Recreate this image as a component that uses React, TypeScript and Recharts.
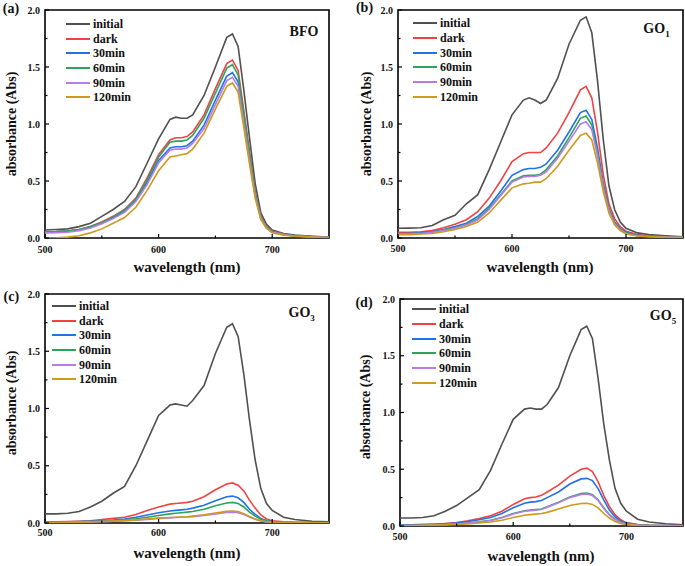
import React from 'react';
import { LineChart, Line, XAxis, YAxis, ReferenceArea } from 'recharts';

// ---------------- data ----------------
const wavelengths = [500, 510, 520, 530, 540, 550, 560, 570, 580, 590, 600, 610, 615, 620, 625, 630, 640, 650, 660, 665, 670, 675, 680, 685, 690, 695, 700, 710, 720, 735, 750];
const seriesNames = ['initial', 'dark', '30min', '60min', '90min', '120min'];
const seriesColors = ['#505050', '#ef4343', '#2172e6', '#2ea25e', '#b67de9', '#cc9b1d'];
const xTicks = [500, 550, 600, 650, 700];
const yTicks = [0, 0.25, 0.5, 0.75, 1, 1.25, 1.5, 1.75, 2];

// (a) BFO
const bfoInitial = [0.07, 0.075, 0.08, 0.10, 0.13, 0.19, 0.25, 0.32, 0.45, 0.66, 0.87, 1.04, 1.06, 1.05, 1.05, 1.08, 1.25, 1.50, 1.76, 1.79, 1.68, 1.30, 0.88, 0.48, 0.22, 0.12, 0.07, 0.04, 0.025, 0.015, 0.008];
const bfoDark = [0.055, 0.057, 0.062, 0.075, 0.10, 0.14, 0.19, 0.25, 0.35, 0.53, 0.73, 0.86, 0.88, 0.88, 0.89, 0.93, 1.08, 1.31, 1.53, 1.56, 1.47, 1.12, 0.76, 0.41, 0.19, 0.10, 0.06, 0.035, 0.02, 0.012, 0.006];
const bfo30 = [0.055, 0.056, 0.06, 0.072, 0.095, 0.13, 0.18, 0.235, 0.33, 0.49, 0.68, 0.79, 0.80, 0.80, 0.81, 0.85, 0.99, 1.21, 1.42, 1.45, 1.37, 1.04, 0.70, 0.38, 0.175, 0.09, 0.05, 0.03, 0.018, 0.01, 0.005];
const bfo60 = [0.055, 0.057, 0.062, 0.075, 0.10, 0.135, 0.185, 0.245, 0.34, 0.51, 0.71, 0.84, 0.85, 0.85, 0.86, 0.90, 1.05, 1.27, 1.49, 1.52, 1.43, 1.09, 0.74, 0.40, 0.185, 0.095, 0.055, 0.033, 0.02, 0.011, 0.006];
const bfo90 = [0.045, 0.046, 0.05, 0.065, 0.088, 0.125, 0.17, 0.225, 0.32, 0.47, 0.66, 0.77, 0.78, 0.78, 0.79, 0.83, 0.96, 1.17, 1.38, 1.41, 1.33, 1.01, 0.68, 0.37, 0.17, 0.088, 0.05, 0.03, 0.017, 0.01, 0.005];
const bfo120 = [0.0, 0.002, 0.008, 0.02, 0.045, 0.08, 0.13, 0.18, 0.27, 0.42, 0.59, 0.71, 0.72, 0.73, 0.74, 0.78, 0.92, 1.13, 1.33, 1.36, 1.28, 0.97, 0.65, 0.35, 0.16, 0.083, 0.045, 0.025, 0.015, 0.008, 0.004];

// (b) GO1
const go1Initial = [0.085, 0.087, 0.09, 0.11, 0.16, 0.20, 0.30, 0.38, 0.60, 0.84, 1.08, 1.21, 1.23, 1.21, 1.18, 1.21, 1.40, 1.70, 1.91, 1.94, 1.80, 1.38, 0.87, 0.46, 0.25, 0.14, 0.085, 0.045, 0.03, 0.02, 0.01];
const go1Dark = [0.05, 0.05, 0.055, 0.065, 0.09, 0.12, 0.16, 0.23, 0.35, 0.50, 0.67, 0.74, 0.75, 0.75, 0.75, 0.79, 0.92, 1.10, 1.30, 1.33, 1.23, 0.93, 0.56, 0.30, 0.17, 0.10, 0.06, 0.03, 0.02, 0.012, 0.008];
const go130 = [0.04, 0.04, 0.045, 0.055, 0.075, 0.10, 0.13, 0.19, 0.28, 0.41, 0.55, 0.60, 0.61, 0.61, 0.62, 0.65, 0.77, 0.93, 1.10, 1.12, 1.04, 0.79, 0.48, 0.26, 0.14, 0.08, 0.05, 0.025, 0.015, 0.01, 0.006];
const go160 = [0.035, 0.035, 0.04, 0.05, 0.07, 0.09, 0.12, 0.17, 0.26, 0.38, 0.50, 0.545, 0.55, 0.55, 0.56, 0.60, 0.72, 0.88, 1.05, 1.07, 0.99, 0.75, 0.46, 0.25, 0.13, 0.075, 0.045, 0.022, 0.014, 0.009, 0.005];
const go190 = [0.035, 0.035, 0.04, 0.05, 0.065, 0.085, 0.115, 0.16, 0.25, 0.37, 0.49, 0.535, 0.54, 0.54, 0.55, 0.58, 0.70, 0.85, 1.00, 1.02, 0.95, 0.72, 0.44, 0.24, 0.125, 0.07, 0.04, 0.02, 0.013, 0.008, 0.005];
const go1120 = [0.03, 0.03, 0.035, 0.04, 0.055, 0.075, 0.10, 0.14, 0.22, 0.33, 0.44, 0.475, 0.48, 0.49, 0.49, 0.52, 0.63, 0.77, 0.90, 0.92, 0.86, 0.66, 0.41, 0.22, 0.115, 0.065, 0.035, 0.018, 0.012, 0.007, 0.004];

// (c) GO3
const go3Initial = [0.08, 0.08, 0.085, 0.10, 0.14, 0.19, 0.26, 0.32, 0.50, 0.72, 0.94, 1.03, 1.04, 1.03, 1.02, 1.07, 1.20, 1.48, 1.71, 1.74, 1.63, 1.30, 0.90, 0.55, 0.30, 0.17, 0.11, 0.05, 0.03, 0.015, 0.01];
const go3Dark = [0.01, 0.01, 0.012, 0.015, 0.02, 0.03, 0.04, 0.05, 0.075, 0.11, 0.14, 0.165, 0.17, 0.175, 0.18, 0.19, 0.23, 0.29, 0.34, 0.35, 0.33, 0.28, 0.20, 0.13, 0.07, 0.035, 0.02, 0.01, 0.006, 0.004, 0.003];
const go330 = [0.01, 0.01, 0.01, 0.012, 0.015, 0.02, 0.025, 0.035, 0.05, 0.07, 0.09, 0.105, 0.11, 0.115, 0.12, 0.13, 0.155, 0.195, 0.23, 0.235, 0.22, 0.18, 0.12, 0.075, 0.04, 0.02, 0.012, 0.006, 0.004, 0.003, 0.002];
const go360 = [0.008, 0.008, 0.009, 0.01, 0.012, 0.016, 0.02, 0.027, 0.037, 0.05, 0.065, 0.08, 0.085, 0.09, 0.095, 0.10, 0.12, 0.15, 0.175, 0.18, 0.17, 0.14, 0.095, 0.06, 0.033, 0.017, 0.01, 0.005, 0.004, 0.003, 0.002];
const go390 = [0.005, 0.005, 0.006, 0.008, 0.01, 0.012, 0.015, 0.02, 0.025, 0.032, 0.04, 0.045, 0.048, 0.05, 0.052, 0.056, 0.066, 0.08, 0.093, 0.095, 0.09, 0.074, 0.052, 0.032, 0.018, 0.01, 0.006, 0.004, 0.003, 0.002, 0.001];
const go3120 = [0.005, 0.005, 0.006, 0.008, 0.01, 0.013, 0.016, 0.021, 0.027, 0.035, 0.043, 0.048, 0.05, 0.053, 0.055, 0.06, 0.072, 0.088, 0.102, 0.105, 0.1, 0.082, 0.057, 0.035, 0.02, 0.011, 0.007, 0.004, 0.003, 0.002, 0.001];

// (d) GO5
const go5Initial = [0.07, 0.07, 0.075, 0.09, 0.13, 0.18, 0.25, 0.32, 0.49, 0.72, 0.94, 1.03, 1.04, 1.03, 1.03, 1.07, 1.22, 1.50, 1.73, 1.76, 1.65, 1.30, 0.90, 0.58, 0.33, 0.20, 0.13, 0.06, 0.035, 0.02, 0.01];
const go5Dark = [0.01, 0.01, 0.012, 0.016, 0.022, 0.03, 0.045, 0.065, 0.09, 0.13, 0.19, 0.24, 0.25, 0.255, 0.27, 0.30, 0.36, 0.44, 0.50, 0.51, 0.48, 0.39, 0.27, 0.17, 0.10, 0.055, 0.03, 0.012, 0.007, 0.004, 0.003];
const go530 = [0.01, 0.01, 0.012, 0.015, 0.02, 0.027, 0.04, 0.055, 0.075, 0.11, 0.16, 0.20, 0.21, 0.215, 0.225, 0.25, 0.30, 0.37, 0.415, 0.42, 0.40, 0.33, 0.23, 0.14, 0.08, 0.045, 0.025, 0.01, 0.006, 0.004, 0.002];
const go560 = [0.005, 0.005, 0.007, 0.01, 0.013, 0.018, 0.026, 0.036, 0.05, 0.075, 0.11, 0.135, 0.14, 0.145, 0.15, 0.17, 0.21, 0.255, 0.285, 0.29, 0.275, 0.23, 0.16, 0.10, 0.06, 0.033, 0.018, 0.008, 0.005, 0.003, 0.002];
const go590 = [0.005, 0.005, 0.007, 0.01, 0.013, 0.018, 0.025, 0.035, 0.048, 0.072, 0.105, 0.13, 0.135, 0.14, 0.145, 0.165, 0.205, 0.25, 0.278, 0.282, 0.268, 0.225, 0.155, 0.095, 0.057, 0.031, 0.017, 0.008, 0.005, 0.003, 0.002];
const go5120 = [0.005, 0.005, 0.006, 0.008, 0.01, 0.014, 0.019, 0.026, 0.035, 0.05, 0.075, 0.095, 0.10, 0.105, 0.11, 0.12, 0.15, 0.18, 0.198, 0.20, 0.19, 0.16, 0.11, 0.07, 0.04, 0.022, 0.012, 0.006, 0.004, 0.002, 0.001];

// ---------------- helpers ----------------
const FONT = '"Liberation Serif", "Times New Roman", serif';

const buildRows = (series: number[][]) =>
  wavelengths.map((w, i) => {
    const row: Record<string, number> = { w };
    seriesNames.forEach((n, k) => {
      row[n] = series[k][i];
    });
    return row;
  });

type PanelCfg = {
  left: number;
  top: number;
  width: number;
  height: number;
  boxLeft: number;
  boxTop: number;
  boxRight: number;
  boxBottom: number;
  series: number[][];
  tag: string;
  sample: React.ReactNode;
  tagPos: [number, number];
  samplePos: [number, number];
  xTitlePos: [number, number];
  yTitlePos: [number, number];
  legendPos: [number, number];
  xLabelGap: number;
};

const XTick = (props: any) => {
  const { x, y, payload, gap } = props;
  const v = payload.value;
  const major = v % 100 === 0;
  return (
    <g>
      <line x1={x} x2={x} y1={y} y2={y - (major ? 4 : 2.5)} stroke="#000" strokeWidth={1.2} />
      {major && (
        <text x={x} y={y + gap} textAnchor="middle" dominantBaseline="central" fontFamily={FONT} fontWeight="bold" fontSize={10} fill="#111">
          {v}
        </text>
      )}
    </g>
  );
};

const YTick = (props: any) => {
  const { x, y, payload } = props;
  const v = payload.value;
  const major = Math.abs(v * 2 - Math.round(v * 2)) < 1e-6;
  return (
    <g>
      <line x1={x} x2={x + (major ? 4 : 2.5)} y1={y} y2={y} stroke="#000" strokeWidth={1.2} />
      {major && (
        <text x={x - 5} y={y} textAnchor="end" dominantBaseline="central" fontFamily={FONT} fontWeight="bold" fontSize={10} fill="#111">
          {v.toFixed(1)}
        </text>
      )}
    </g>
  );
};

const Panel = ({ cfg }: { cfg: PanelCfg }) => {
  const data = buildRows(cfg.series);
  const mTop = cfg.boxTop - cfg.top;
  const mRight = cfg.left + cfg.width - cfg.boxRight;
  const yW = cfg.boxLeft - cfg.left;
  const xH = cfg.top + cfg.height - cfg.boxBottom;
  const abs = (x: number, y: number): React.CSSProperties => ({
    position: 'absolute',
    left: x,
    top: y,
    fontFamily: FONT,
    fontWeight: 'bold',
    whiteSpace: 'nowrap',
    lineHeight: 1,
    color: '#111',
  });
  return (
    <>
      <div style={{ position: 'absolute', left: cfg.left, top: cfg.top }}>
        <LineChart width={cfg.width} height={cfg.height} data={data} margin={{ top: mTop, right: mRight, bottom: 0, left: 0 }}>
          <XAxis
            dataKey="w"
            type="number"
            domain={[500, 750]}
            ticks={xTicks}
            interval={0}
            height={xH}
            axisLine={false}
            tickLine={false}
            tickSize={0}
            tickMargin={0}
            allowDataOverflow
            tick={(p: any) => <XTick {...p} gap={cfg.xLabelGap} />}
          />
          <YAxis
            type="number"
            domain={[0, 2]}
            ticks={yTicks}
            interval={0}
            width={yW}
            axisLine={false}
            tickLine={false}
            tickSize={0}
            tickMargin={0}
            allowDataOverflow
            tick={(p: any) => <YTick {...p} />}
          />
          {seriesNames.map((n, k) => (
            <Line
              key={n}
              type="linear"
              dataKey={n}
              name={n}
              stroke={seriesColors[k]}
              strokeWidth={1.6}
              dot={false}
              activeDot={false}
              isAnimationActive={false}
            />
          ))}
          <ReferenceArea x1={500} x2={750} y1={0} y2={2} fill="none" fillOpacity={0} stroke="#000" strokeWidth={1.6} ifOverflow="visible" />
        </LineChart>
      </div>
      {/* legend */}
      <div style={{ position: 'absolute', left: cfg.left + cfg.legendPos[0], top: cfg.top + cfg.legendPos[1] - 7.35 }}>
        {seriesNames.map((n, k) => (
          <div key={n} style={{ display: 'flex', alignItems: 'center', height: 14.7 }}>
            <span style={{ display: 'inline-block', width: 24, height: 2, background: seriesColors[k] }} />
            <span style={{ marginLeft: 3, fontFamily: FONT, fontWeight: 'bold', fontSize: 12, color: '#111', lineHeight: 1 }}>{n}</span>
          </div>
        ))}
      </div>
      <div style={{ ...abs(cfg.tagPos[0], cfg.tagPos[1]), fontSize: 14, transform: 'translate(-50%,-50%)' }}>{cfg.tag}</div>
      <div style={{ ...abs(cfg.samplePos[0], cfg.samplePos[1]), fontSize: 14, transform: 'translate(-50%,-50%)' }}>{cfg.sample}</div>
      <div style={{ ...abs(cfg.xTitlePos[0], cfg.xTitlePos[1]), fontSize: 15, transform: 'translate(-50%,-50%)' }}>wavelength (nm)</div>
      <div style={{ ...abs(cfg.yTitlePos[0], cfg.yTitlePos[1]), fontSize: 14, transform: 'translate(-50%,-50%) rotate(-90deg)' }}>absorbance (Abs)</div>
    </>
  );
};

const GO = ({ n }: { n: string }) => (
  <span>
    GO<span style={{ fontSize: 9, position: 'relative', top: 4 }}>{n}</span>
  </span>
);

const panels: PanelCfg[] = [
  {
    left: 0, top: 0, width: 340, height: 282,
    boxLeft: 45, boxTop: 10, boxRight: 329, boxBottom: 238,
    series: [bfoInitial, bfoDark, bfo30, bfo60, bfo90, bfo120],
    tag: '(a)', sample: 'BFO',
    tagPos: [11, 8.5], samplePos: [304, 32],
    xTitlePos: [187, 267], yTitlePos: [12, 124],
    legendPos: [66, 24], xLabelGap: 11,
  },
  {
    left: 340, top: 0, width: 345, height: 282,
    boxLeft: 398, boxTop: 10, boxRight: 683, boxBottom: 238,
    series: [go1Initial, go1Dark, go130, go160, go190, go1120],
    tag: '(b)', sample: <GO n="1" />,
    tagPos: [364.5, 7.5], samplePos: [656.5, 29],
    xTitlePos: [540, 267], yTitlePos: [367, 124],
    legendPos: [73, 23.3], xLabelGap: 10,
  },
  {
    left: 0, top: 282, width: 340, height: 284,
    boxLeft: 45, boxTop: 294, boxRight: 329, boxBottom: 523,
    series: [go3Initial, go3Dark, go330, go360, go390, go3120],
    tag: '(c)', sample: <GO n="3" />,
    tagPos: [11.3, 296.7], samplePos: [301.7, 312.5],
    xTitlePos: [187, 553], yTitlePos: [12, 403],
    legendPos: [52, 24], xLabelGap: 9.5,
  },
  {
    left: 340, top: 282, width: 345, height: 284,
    boxLeft: 400, boxTop: 299, boxRight: 683, boxBottom: 526,
    series: [go5Initial, go5Dark, go530, go560, go590, go5120],
    tag: '(d)', sample: <GO n="5" />,
    tagPos: [364, 303.3], samplePos: [663, 316],
    xTitlePos: [541, 556], yTitlePos: [366, 407],
    legendPos: [72, 27.3], xLabelGap: 10,
  },
];

export default function App() {
  return (
    <div style={{ position: 'absolute', left: 0, top: 0, width: 685, height: 566, background: '#fff', overflow: 'hidden' }}>
      {panels.map((p, i) => (
        <Panel key={i} cfg={p} />
      ))}
    </div>
  );
}
